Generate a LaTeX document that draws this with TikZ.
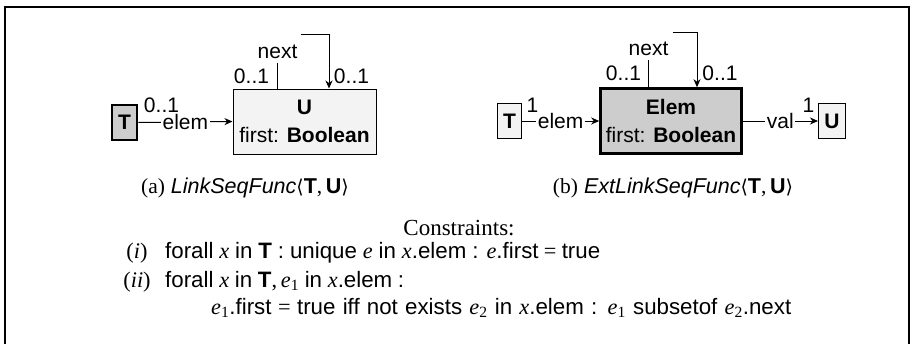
\documentclass[tikz,border=0pt]{standalone}
\usepackage{fontspec}
\setmainfont{Liberation Serif}
\setsansfont{Liberation Sans}
\newfontfamily\djs{DejaVu Serif}
\usetikzlibrary{arrows.meta}
\definecolor{boxgray}{HTML}{CDCDCD}
\definecolor{boxlight}{HTML}{F3F3F3}
\newcommand\sfb[1]{\textsf{\textbf{#1}}}
\newcommand\mv[1]{{\rmfamily\itshape #1}}
\newcommand\subone[1]{{\rmfamily\textsubscript{#1}}}
\newcommand\lang{{\djs\fontsize{19}{27}\selectfont ⟨}}
\newcommand\rang{{\djs\fontsize{19}{27}\selectfont ⟩}}
\newcommand\eqs{{\rmfamily\ =\ }}
\begin{document}
\begin{tikzpicture}[x=1pt,y=-1pt,
  every node/.style={font=\fontsize{21}{27}\selectfont\sffamily, inner sep=0pt},
  cfont/.style={font=\fontsize{22.3}{28}\selectfont\sffamily},
  thinbox/.style={draw, line width=1pt, fill=boxlight, align=center},
  thickbox/.style={draw, line width=2.6pt, fill=boxgray, align=center},
  conn/.style={line width=1pt},
  arr/.style={line width=1pt, -{Stealth[length=8pt,width=7pt,inset=2.5pt]}},
  lbl/.style={fill=white, inner sep=1.5pt},
  mult/.style={anchor=base},
  frame/.style={line width=2pt}
]
\useasboundingbox (0,0) rectangle (913,343);
% frame
\draw[frame] (4.5,345) -- (4.5,6.5) -- (909,6.5) -- (909,345);

% ---------- (a)
\node[thickbox, minimum width=25pt, minimum height=35pt] (Ta) at (124.5,122.5) {\textbf{T}};
\node[thinbox, minimum width=143pt, minimum height=65pt] (Ua) at (304.5,121.5) {\textbf{U}\\[1pt]first: \textbf{Boolean}};
\draw[arr] (Ta.east) -- node[lbl] (ela) {elem} (Ua.west);
\node[mult] (ma1) at (161.5,112) {0..1};
\node[anchor=base] (nexta) at (277.5,58) {next};
\coordinate (la) at (329,34);
\draw[conn] (Ua.north -| nexta.south) -- ([yshift=-5pt]nexta.south);
\draw[arr] ([xshift=3pt]nexta.east |- la) -- (la) -- (la |- Ua.north);
\node[mult] (ma2) at (251.5,83) {0..1};
\node[mult] (ma3) at (351.5,83) {0..1};
\node[anchor=base, font=\fontsize{21.5}{27}\selectfont\sffamily] (capa) at (245,193) {{\rmfamily (a)} \textit{LinkSeqFunc}\lang\sfb{T}{\rmfamily,\,}\sfb{U}\rang};

% ---------- (b)
\node[thinbox, minimum width=24pt, minimum height=35pt] (Tb) at (509.5,121) {\textbf{T}};
\node[thickbox, minimum width=141pt, minimum height=65pt] (Eb) at (671,121) {\textbf{Elem}\\[1pt]first: \textbf{Boolean}};
\node[thinbox, minimum width=27pt, minimum height=35pt] (Ub) at (832,121) {\textbf{U}};
\draw[arr] (Tb.east) -- node[lbl] (elb) {elem} (Eb.west);
\draw[arr] (Eb.east) -- node[lbl] (valb) {val} (Ub.west);
\node[mult] (mb1) at (532.5,112) {1};
\node[mult] (mb4) at (808.5,112) {1};
\node[anchor=base] (nextb) at (648.5,55) {next};
\coordinate (lb) at (697,32);
\draw[conn] (Eb.north -| nextb.south) -- ([yshift=-5pt]nextb.south);
\draw[arr] ([xshift=4pt]nextb.east |- lb) -- (lb) -- (lb |- Eb.north);
\node[mult] (mb2) at (623.5,80) {0..1};
\node[mult] (mb3) at (720,80) {0..1};
\node[anchor=base, font=\fontsize{21.5}{27}\selectfont\sffamily] (capb) at (673,193) {{\rmfamily (b)} \textit{ExtLinkSeqFunc}\lang\sfb{T}{\rmfamily,\,}\sfb{U}\rang};

% ---------- constraints
\node[anchor=base, font=\fontsize{23}{28}\selectfont\rmfamily] (cons) at (459,235) {Constraints:};
\node[anchor=base, cfont] (ci) at (137,258) {\rmfamily(\textit{i})};
\node[anchor=base west, cfont] (cit) at (165,258) {\makebox[435pt][s]{forall \mv{x} in \sfb{T} : unique \mv{e} in \mv{x}.elem : \mv{e}.first\eqs true}};
\node[anchor=base, cfont] (cii) at (137,287) {\rmfamily(\textit{ii})};
\node[anchor=base west, cfont] (ciit) at (165,287) {\makebox[239pt][s]{forall \mv{x} in \sfb{T}{\rmfamily,\,}\mv{e}\subone{1} in \mv{x}.elem :}};
\node[anchor=base west, cfont] (ciii) at (211,314) {\makebox[580pt][s]{\mv{e}\subone{1}.first\eqs true iff not exists \mv{e}\subone{2} in \mv{x}.elem : \mv{e}\subone{1} subsetof \mv{e}\subone{2}.next}};
\end{tikzpicture}
\end{document}
